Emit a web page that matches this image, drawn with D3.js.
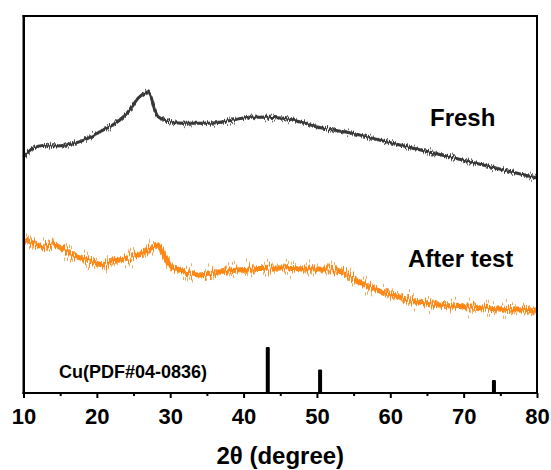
<!DOCTYPE html>
<html>
<head>
<meta charset="utf-8">
<script src="https://cdn.jsdelivr.net/npm/d3@7"></script>
<style>
  html, body { margin: 0; padding: 0; background: #fff; }
  #wrap { position: relative; width: 551px; height: 470px; }
  #wrap svg { position: absolute; left: 0; top: 0; display: block; font-family: "Liberation Sans", Arial, Helvetica, sans-serif; }
  #box { position: absolute; box-sizing: border-box; border: 2px solid #000; pointer-events: none; }
</style>
</head>
<body>
<div id="wrap">
  <svg id="traces" width="551" height="470"></svg>
  <svg id="chart" width="551" height="470"></svg>
  <div id="box"></div>
</div>
<script>
// XRD patterns (intensity in arbitrary units, offset for stacking)
const freshTheta = [10, 10.2, 11.33, 12.69, 14.52, 15.88, 17.69, 19.05, 20.41, 21.77, 23.13, 24.49, 25.62, 26.53, 26.98, 27.44, 27.89, 28.34, 29.93, 32.2, 34.01, 36.29, 38.54, 40.82, 43.09, 45.35, 47.62, 49.89, 52.15, 54.42, 58.5, 63.0, 67.6, 72.1, 76.6, 80];
const freshI     = [236, 237.5, 245, 247.5, 247, 248, 251.3, 255.7, 261.3, 266.3, 273, 283, 294.7, 299.7, 301.3, 294.7, 283, 276.3, 271.3, 269.7, 269.7, 270.3, 273, 275.7, 275.7, 274.7, 271.3, 266.3, 263, 260.3, 253, 245, 237, 229, 221, 215];

const afterTheta = [10, 10.2, 11.33, 12.69, 14.05, 15.2, 15.88, 17.24, 18.6, 19.96, 20.86, 21.77, 23.13, 24.94, 26.3, 27.66, 28.34, 29.02, 29.93, 31.29, 32.65, 34.01, 36.73, 40.82, 44.9, 48.98, 51.7, 53.74, 55.78, 58.5, 61.22, 63.93, 66.65, 70.73, 74.83, 80];
const afterI     = [153, 153, 149.7, 146.3, 148, 144.7, 141.3, 136.3, 133, 129.7, 128, 131.3, 133, 136.3, 139.7, 146.3, 148, 139.7, 128, 123, 119.7, 118, 121, 124, 125, 124, 124, 120, 111, 102, 96, 91, 88, 86, 84, 82];

// Cu reference lines, PDF#04-0836
const cuTheta = [43.30, 50.43, 74.13];
const cuRel   = [100, 51, 28];

const majorTicks = [10, 20, 30, 40, 50, 60, 70, 80];
const minorTicks = [15, 25, 35, 45, 55, 65, 75];

const plotL = 23.5, plotR = 537, plotT = 16, plotB = 393;

const x = d3.scaleLinear().domain([10, 80]).range([plotL, plotR]);
const y = d3.scaleLinear().domain([0, 377]).range([plotB, plotT]);
const yStick = d3.scaleLinear().domain([0, 100]).range([plotB, 347]);

// ---- noisy traces (own layer) ----
const traces = d3.select("#traces");
const defs = traces.append("defs");
// Detector noise texture: columns shifted vertically, no horizontal shift
function noiseFilter(id, seed, scale) {
  const f = defs.append("filter").attr("id", id)
    .attr("filterUnits", "userSpaceOnUse")
    .attr("x", 0).attr("y", 0).attr("width", 551).attr("height", 470);
  f.append("feTurbulence").attr("type", "fractalNoise")
    .attr("baseFrequency", "0.95 0").attr("numOctaves", 2).attr("seed", seed).attr("result", "turb");
  f.append("feColorMatrix").attr("in", "turb").attr("type", "matrix")
    .attr("values", "1 0 0 0 0  0 0 0 0 0.5  0 0 0 0 0.5  0 0 0 0 1").attr("result", "map");
  f.append("feDisplacementMap").attr("in", "SourceGraphic").attr("in2", "map")
    .attr("scale", scale).attr("xChannelSelector", "G").attr("yChannelSelector", "R");
}
noiseFilter("noiseDark", 3, 16);
noiseFilter("noiseDarkCore", 5, 7);
noiseFilter("noiseOrange", 7, 36);
noiseFilter("noiseOrangeCore", 11, 16);

const line = d3.line().x(d => x(d[0])).y(d => y(d[1])).curve(d3.curveMonotoneX);
const fresh = d3.zip(freshTheta, freshI);
const after = d3.zip(afterTheta, afterI);

// After test pattern
traces.append("path").datum(after).attr("d", line)
  .attr("fill", "none").attr("stroke", "#f5ab60").attr("stroke-width", 3)
  .attr("filter", "url(#noiseOrange)");
traces.append("path").datum(after).attr("d", line)
  .attr("fill", "none").attr("stroke", "#ff8716").attr("stroke-width", 5)
  .attr("filter", "url(#noiseOrangeCore)");

// Fresh pattern
traces.append("path").datum(fresh).attr("d", line)
  .attr("fill", "none").attr("stroke", "#6c6c6c").attr("stroke-width", 1.8)
  .attr("filter", "url(#noiseDark)");
traces.append("path").datum(fresh).attr("d", line)
  .attr("fill", "none").attr("stroke", "#383838").attr("stroke-width", 3)
  .attr("filter", "url(#noiseDarkCore)");

// ---- frame, axis, sticks and labels ----
const svg = d3.select("#chart");

// Cu sticks
svg.append("g").selectAll("rect").data(d3.zip(cuTheta, cuRel)).join("rect")
  .attr("x", d => x(d[0]) - 2).attr("width", 4)
  .attr("y", d => yStick(d[1])).attr("height", d => plotB - yStick(d[1]))
  .attr("fill", "#000").attr("rx", 1);

// Bottom axis
const axisMajor = d3.axisBottom(x).tickValues(majorTicks).tickSize(5).tickSizeOuter(0).tickPadding(10).tickFormat(d3.format("d"));
const ax = svg.append("g").attr("transform", `translate(0,${plotB})`).call(axisMajor);
ax.select(".domain").remove();
ax.selectAll(".tick line").attr("stroke", "#000").attr("stroke-width", 2);
ax.selectAll(".tick text").attr("fill", "#000").attr("font-size", 22).attr("font-weight", "bold")
  .attr("font-family", "'Liberation Sans', Arial, sans-serif");

const axisMinor = d3.axisBottom(x).tickValues(minorTicks).tickSize(3).tickSizeOuter(0).tickFormat("");
const axm = svg.append("g").attr("transform", `translate(0,${plotB})`).call(axisMinor);
axm.select(".domain").remove();
axm.selectAll(".tick line").attr("stroke", "#000").attr("stroke-width", 2);

// Frame: four filled bars, 2px thick
const fw = 2;
const frame = svg.append("g").attr("fill", "#000");
frame.append("rect").attr("x", plotL - fw / 2).attr("y", plotT - fw / 2).attr("width", plotR - plotL + fw).attr("height", fw);
frame.append("rect").attr("x", plotL - fw / 2).attr("y", plotB - fw / 2).attr("width", plotR - plotL + fw).attr("height", fw);
frame.append("rect").attr("x", plotL - fw / 2).attr("y", plotT - fw / 2).attr("width", fw).attr("height", plotB - plotT + fw);
frame.append("rect").attr("x", plotR - fw / 2).attr("y", plotT - fw / 2).attr("width", fw).attr("height", plotB - plotT + fw);

// Same box as an HTML border on top of both layers
d3.select("#box")
  .style("left", `${plotL - fw / 2}px`).style("top", `${plotT - fw / 2}px`)
  .style("width", `${plotR - plotL + fw}px`).style("height", `${plotB - plotT + fw}px`);

// Labels
svg.append("text").attr("x", 430).attr("y", 126).text("Fresh")
  .attr("font-size", 24).attr("font-weight", "bold").attr("fill", "#000");
svg.append("text").attr("x", 408).attr("y", 267).text("After test")
  .attr("font-size", 24).attr("font-weight", "bold").attr("fill", "#000");
svg.append("text").attr("x", 59).attr("y", 378).text("Cu(PDF#04-0836)")
  .attr("font-size", 18).attr("font-weight", "bold").attr("fill", "#000");
svg.append("text").attr("x", (plotL + plotR) / 2).attr("y", 464).attr("text-anchor", "middle")
  .text("2θ (degree)").attr("font-size", 24).attr("font-weight", "bold").attr("fill", "#000");
</script>
</body>
</html>
